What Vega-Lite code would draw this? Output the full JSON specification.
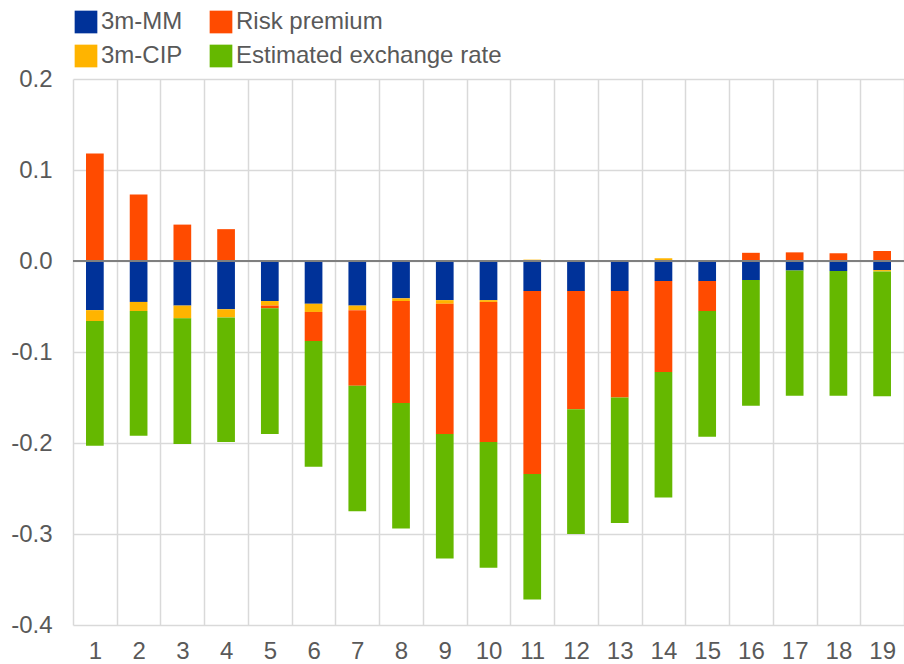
{
  "$schema": "https://vega.github.io/schema/vega-lite/v6.json",
  "autosize": "none",
  "width": 831,
  "height": 546,
  "padding": {"left": 73, "top": 79, "right": 0, "bottom": 39},
  "background": "white",
  "config": {"view": {"stroke": null}, "font": "Liberation Sans"},
  "data": {
    "values": [
      {"p": 1, "s": "3m-MM", "o": 1, "v": -0.054}, {"p": 1, "s": "3m-CIP", "o": 2, "v": -0.012}, {"p": 1, "s": "Risk premium", "o": 3, "v": 0.118}, {"p": 1, "s": "Estimated exchange rate", "o": 4, "v": -0.137},
      {"p": 2, "s": "3m-MM", "o": 1, "v": -0.045}, {"p": 2, "s": "3m-CIP", "o": 2, "v": -0.010}, {"p": 2, "s": "Risk premium", "o": 3, "v": 0.073}, {"p": 2, "s": "Estimated exchange rate", "o": 4, "v": -0.137},
      {"p": 3, "s": "3m-MM", "o": 1, "v": -0.049}, {"p": 3, "s": "3m-CIP", "o": 2, "v": -0.014}, {"p": 3, "s": "Risk premium", "o": 3, "v": 0.040}, {"p": 3, "s": "Estimated exchange rate", "o": 4, "v": -0.138},
      {"p": 4, "s": "3m-MM", "o": 1, "v": -0.053}, {"p": 4, "s": "3m-CIP", "o": 2, "v": -0.009}, {"p": 4, "s": "Risk premium", "o": 3, "v": 0.035}, {"p": 4, "s": "Estimated exchange rate", "o": 4, "v": -0.137},
      {"p": 5, "s": "3m-MM", "o": 1, "v": -0.044}, {"p": 5, "s": "3m-CIP", "o": 2, "v": -0.005}, {"p": 5, "s": "Risk premium", "o": 3, "v": -0.003}, {"p": 5, "s": "Estimated exchange rate", "o": 4, "v": -0.138},
      {"p": 6, "s": "3m-MM", "o": 1, "v": -0.047}, {"p": 6, "s": "3m-CIP", "o": 2, "v": -0.009}, {"p": 6, "s": "Risk premium", "o": 3, "v": -0.032}, {"p": 6, "s": "Estimated exchange rate", "o": 4, "v": -0.138},
      {"p": 7, "s": "3m-MM", "o": 1, "v": -0.049}, {"p": 7, "s": "3m-CIP", "o": 2, "v": -0.005}, {"p": 7, "s": "Risk premium", "o": 3, "v": -0.083}, {"p": 7, "s": "Estimated exchange rate", "o": 4, "v": -0.138},
      {"p": 8, "s": "3m-MM", "o": 1, "v": -0.041}, {"p": 8, "s": "3m-CIP", "o": 2, "v": -0.003}, {"p": 8, "s": "Risk premium", "o": 3, "v": -0.112}, {"p": 8, "s": "Estimated exchange rate", "o": 4, "v": -0.138},
      {"p": 9, "s": "3m-MM", "o": 1, "v": -0.043}, {"p": 9, "s": "3m-CIP", "o": 2, "v": -0.004}, {"p": 9, "s": "Risk premium", "o": 3, "v": -0.143}, {"p": 9, "s": "Estimated exchange rate", "o": 4, "v": -0.137},
      {"p": 10, "s": "3m-MM", "o": 1, "v": -0.043}, {"p": 10, "s": "3m-CIP", "o": 2, "v": -0.002}, {"p": 10, "s": "Risk premium", "o": 3, "v": -0.154}, {"p": 10, "s": "Estimated exchange rate", "o": 4, "v": -0.138},
      {"p": 11, "s": "3m-MM", "o": 1, "v": -0.033}, {"p": 11, "s": "3m-CIP", "o": 2, "v": 0.0015}, {"p": 11, "s": "Risk premium", "o": 3, "v": -0.201}, {"p": 11, "s": "Estimated exchange rate", "o": 4, "v": -0.138},
      {"p": 12, "s": "3m-MM", "o": 1, "v": -0.033}, {"p": 12, "s": "3m-CIP", "o": 2, "v": 0.0}, {"p": 12, "s": "Risk premium", "o": 3, "v": -0.130}, {"p": 12, "s": "Estimated exchange rate", "o": 4, "v": -0.137},
      {"p": 13, "s": "3m-MM", "o": 1, "v": -0.033}, {"p": 13, "s": "3m-CIP", "o": 2, "v": 0.001}, {"p": 13, "s": "Risk premium", "o": 3, "v": -0.117}, {"p": 13, "s": "Estimated exchange rate", "o": 4, "v": -0.138},
      {"p": 14, "s": "3m-MM", "o": 1, "v": -0.022}, {"p": 14, "s": "3m-CIP", "o": 2, "v": 0.003}, {"p": 14, "s": "Risk premium", "o": 3, "v": -0.100}, {"p": 14, "s": "Estimated exchange rate", "o": 4, "v": -0.138},
      {"p": 15, "s": "3m-MM", "o": 1, "v": -0.022}, {"p": 15, "s": "3m-CIP", "o": 2, "v": 0.0005}, {"p": 15, "s": "Risk premium", "o": 3, "v": -0.033}, {"p": 15, "s": "Estimated exchange rate", "o": 4, "v": -0.138},
      {"p": 16, "s": "3m-MM", "o": 1, "v": -0.021}, {"p": 16, "s": "3m-CIP", "o": 2, "v": 0.001}, {"p": 16, "s": "Risk premium", "o": 3, "v": 0.008}, {"p": 16, "s": "Estimated exchange rate", "o": 4, "v": -0.138},
      {"p": 17, "s": "3m-MM", "o": 1, "v": -0.0105}, {"p": 17, "s": "3m-CIP", "o": 2, "v": 0.001}, {"p": 17, "s": "Risk premium", "o": 3, "v": 0.0085}, {"p": 17, "s": "Estimated exchange rate", "o": 4, "v": -0.1375},
      {"p": 18, "s": "3m-MM", "o": 1, "v": -0.011}, {"p": 18, "s": "3m-CIP", "o": 2, "v": 0.0005}, {"p": 18, "s": "Risk premium", "o": 3, "v": 0.008}, {"p": 18, "s": "Estimated exchange rate", "o": 4, "v": -0.137},
      {"p": 19, "s": "3m-MM", "o": 1, "v": -0.010}, {"p": 19, "s": "3m-CIP", "o": 2, "v": -0.0015}, {"p": 19, "s": "Risk premium", "o": 3, "v": 0.011}, {"p": 19, "s": "Estimated exchange rate", "o": 4, "v": -0.137}
    ]
  },
  "layer": [
    {
      "mark": {"type": "bar", "width": {"band": 0.405}},
      "encoding": {
        "x": {
          "field": "p",
          "type": "ordinal",
          "scale": {"paddingInner": 0, "paddingOuter": 0},
          "axis": {
            "title": null,
            "labelAngle": 0,
            "tickBand": "extent",
            "grid": true,
            "gridColor": "#d9d9d9",
            "gridWidth": 1.5,
            "ticks": false,
            "domain": false,
            "labelPadding": 14,
            "labelFontSize": 24,
            "labelColor": "#595959",
            "labelFont": "Liberation Sans"
          }
        },
        "y": {
          "field": "v",
          "type": "quantitative",
          "stack": "zero",
          "scale": {"domain": [-0.4, 0.2], "nice": false, "zero": false},
          "axis": {
            "title": null,
            "values": [-0.4, -0.3, -0.2, -0.1, 0, 0.1, 0.2],
            "labelExpr": "replace(format(datum.value, '.1f'), '\u2212', '-')",
            "grid": true,
            "gridColor": "#d9d9d9",
            "gridWidth": 1.5,
            "ticks": false,
            "domain": false,
            "labelPadding": 21,
            "labelFontSize": 24,
            "labelColor": "#595959",
            "labelFont": "Liberation Sans"
          }
        },
        "color": {
          "field": "s",
          "type": "nominal",
          "scale": {
            "domain": ["3m-MM", "3m-CIP", "Risk premium", "Estimated exchange rate"],
            "range": ["#003299", "#FFB400", "#FF4B00", "#65B800"]
          },
          "legend": {
            "title": null,
            "orient": "none",
            "legendX": 1,
            "legendY": -69,
            "columns": 2,
            "columnPadding": 26,
            "rowPadding": 10,
            "padding": 0,
            "symbolType": "square",
            "symbolSize": 515,
            "symbolStrokeWidth": 0,
            "labelOffset": 3,
            "labelLimit": 0,
            "labelFontSize": 24,
            "labelColor": "#595959",
            "labelFont": "Liberation Sans"
          }
        },
        "order": {"field": "o", "type": "quantitative"}
      }
    },
    {
      "mark": {"type": "rule", "color": "#7f7f7f", "strokeWidth": 2},
      "encoding": {"y": {"datum": 0}}
    }
  ]
}
